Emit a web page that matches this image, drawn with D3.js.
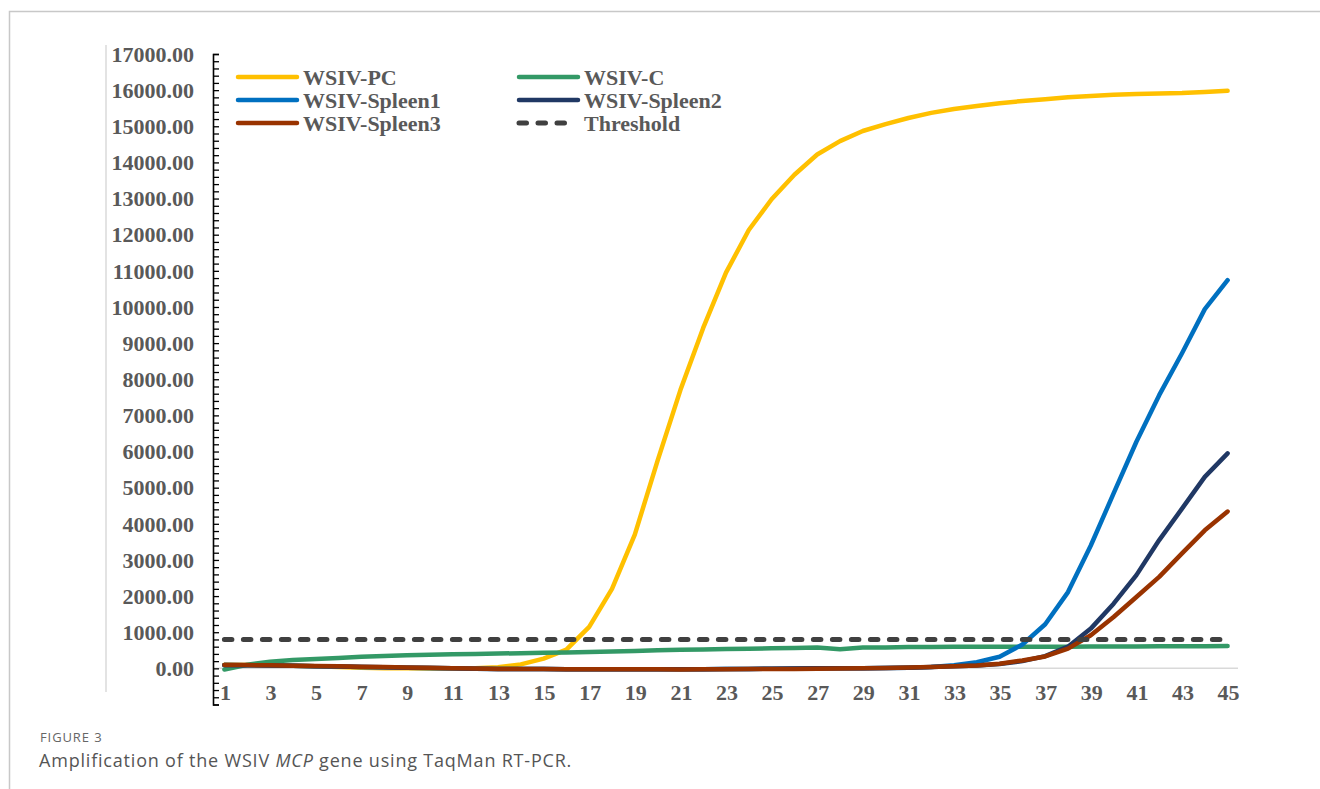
<!DOCTYPE html>
<html>
<head>
<meta charset="utf-8">
<script src="https://cdn.jsdelivr.net/npm/d3@7"></script>
<style>
  body { margin: 0; background: #fff; }
  svg { display: block; }
</style>
</head>
<body>
<script>
// cycle numbers (x categories)
const cycles = [1, 2, 3, 4, 5, 6, 7, 8, 9, 10, 11, 12, 13, 14, 15, 16, 17, 18, 19, 20,
    21, 22, 23, 24, 25, 26, 27, 28, 29, 30, 31, 32, 33, 34, 35, 36, 37, 38, 39, 40,
    41, 42, 43, 44, 45];
const xTickLabels = [1, 3, 5, 7, 9, 11, 13, 15, 17, 19, 21, 23, 25, 27, 29, 31, 33, 35, 37, 39, 41, 43, 45];
const yTickLabels = [0, 1000, 2000, 3000, 4000, 5000, 6000, 7000, 8000, 9000, 10000,
    11000, 12000, 13000, 14000, 15000, 16000, 17000];

const seriesNames = ["WSIV-PC", "WSIV-C", "WSIV-Spleen1", "WSIV-Spleen2", "WSIV-Spleen3", "Threshold"];

const pc = [100, 95, 85, 70, 55, 35, 15, 5, 0, -5,
    -5, 0, 30, 110, 270, 520, 1150, 2200, 3700, 5750,
    7700, 9420, 10950, 12130, 12980, 13660, 14220, 14590, 14870, 15060,
    15230, 15370, 15480, 15560, 15640, 15700, 15750, 15800, 15840, 15870,
    15890, 15910, 15920, 15950, 15980];
const ctrl = [-30, 100, 180, 230, 260, 290, 320, 340, 360, 375,
    390, 400, 410, 420, 430, 440, 450, 465, 480, 500,
    515, 525, 535, 545, 555, 560, 575, 530, 575, 580,
    590, 590, 595, 595, 600, 600, 600, 600, 605, 605,
    605, 610, 615, 615, 620];
const spleen1 = [90, 85, 80, 70, 60, 50, 40, 30, 20, 10,
    0, -10, -15, -20, -20, -25, -25, -25, -25, -25,
    -25, -25, -20, -15, -10, -5, 0, 0, 5, 10,
    20, 40, 85, 170, 320, 660, 1220, 2110, 3400, 4840,
    6270, 7560, 8720, 9940, 10740];
const spleen2 = [90, 85, 80, 70, 60, 50, 40, 30, 20, 10,
    0, -10, -15, -20, -20, -25, -25, -25, -25, -25,
    -25, -25, -20, -15, -10, -5, 0, 0, 5, 10,
    20, 35, 55, 80, 120, 200, 340, 600, 1100, 1790,
    2580, 3550, 4420, 5300, 5950];
const spleen3 = [95, 90, 85, 75, 65, 55, 45, 35, 25, 15,
    5, -5, -15, -20, -20, -25, -25, -25, -25, -25,
    -30, -25, -25, -20, -20, -15, -10, -5, 0, 10,
    25, 40, 60, 80, 130, 220, 330, 545, 915, 1420,
    1975, 2530, 3180, 3820, 4340];
const threshold = 800;

const colors = ["#FFC000", "#339966", "#0070C0", "#203864", "#993300", "#404040"];

const series = [pc, ctrl, spleen1, spleen2, spleen3, cycles.map(() => threshold)];

const svg = d3.select("body").append("svg")
    .attr("width", 1320)
    .attr("height", 789);

// outer frame (top and left edges show)
svg.append("path")
    .attr("d", "M9.5,789V11.5H1320")
    .attr("fill", "none")
    .attr("stroke", "#c8c8c8")
    .attr("stroke-width", 1.5);

// light chart-area edge
svg.append("line")
    .attr("x1", 106).attr("x2", 106)
    .attr("y1", 45).attr("y2", 692)
    .attr("stroke", "#e3e3e3")
    .attr("stroke-width", 2);

// scales
const xScale = d3.scalePoint()
    .domain(cycles)
    .range([213, 1239])
    .padding(0.5);

const yScale = d3.scaleLinear()
    .domain([-1000, 17000])
    .range([704.5, 54]);

const serif = "'Liberation Serif', 'Times New Roman', serif";
const textGray = "#595959";

// zero line
svg.append("line")
    .attr("x1", 213).attr("x2", 1238)
    .attr("y1", yScale(0)).attr("y2", yScale(0))
    .attr("stroke", "#d9d9d9")
    .attr("stroke-width", 1.5);

// y axis with minor ticks pointing inward
const yAxis = svg.append("g")
    .attr("transform", "translate(213,0)")
    .call(d3.axisRight(yScale).tickValues(d3.range(-1000, 17001, 200)).tickSize(6).tickFormat(""));
yAxis.select(".domain").attr("stroke", "#000").attr("stroke-width", 1.6);
yAxis.selectAll(".tick line").attr("stroke", "#000").attr("stroke-width", 1.3);

// y tick labels
svg.append("g")
    .selectAll("text")
    .data(yTickLabels)
    .join("text")
    .attr("x", 194)
    .attr("y", d => yScale(d))
    .attr("dy", "0.35em")
    .attr("text-anchor", "end")
    .style("font-family", serif)
    .style("font-weight", "bold")
    .style("font-size", "22px")
    .style("fill", textGray)
    .text(d => d3.format(".2f")(d));

// x tick labels
svg.append("g")
    .selectAll("text")
    .data(xTickLabels)
    .join("text")
    .attr("x", d => xScale(d) + 1)
    .attr("y", 692)
    .attr("dy", "0.35em")
    .attr("text-anchor", "middle")
    .style("font-family", serif)
    .style("font-weight", "bold")
    .style("font-size", "22px")
    .style("fill", textGray)
    .text(d => d);

// lines
const line = d3.line()
    .x((d, i) => xScale(cycles[i]))
    .y(d => yScale(d));

series.forEach((s, k) => {
    svg.append("path")
        .datum(s)
        .attr("fill", "none")
        .attr("stroke", colors[k])
        .attr("stroke-width", k === 5 ? 5 : 4.5)
        .attr("stroke-linecap", "round")
        .attr("stroke-linejoin", "round")
        .attr("stroke-dasharray", k === 5 ? "7.5,11.5" : null)
        .attr("d", line);
});

// legend
const legendPos = [[238, 77], [519, 77], [238, 100], [519, 100], [238, 123], [519, 123]];
seriesNames.forEach((name, k) => {
    const [lx, ly] = legendPos[k];
    svg.append("line")
        .attr("x1", lx).attr("x2", k === 5 ? lx + 52 : lx + 59)
        .attr("y1", ly).attr("y2", ly)
        .attr("stroke", colors[k])
        .attr("stroke-width", k === 5 ? 5 : 4.5)
        .attr("stroke-linecap", "round")
        .attr("stroke-dasharray", k === 5 ? "7.5,11.5" : null);
    svg.append("text")
        .attr("x", lx + 65)
        .attr("y", ly)
        .attr("dy", "0.35em")
        .style("font-family", serif)
        .style("font-weight", "bold")
        .style("font-size", "22px")
        .style("fill", textGray)
        .text(name);
});

// caption
svg.append("text")
    .attr("x", 40)
    .attr("y", 742)
    .style("font-family", "'Open Sans', 'Noto Sans', sans-serif")
    .style("font-size", "13px")
    .style("letter-spacing", "0.9px")
    .style("fill", "#666")
    .text("FIGURE 3");

const cap = svg.append("text")
    .attr("x", 39)
    .attr("y", 767)
    .style("font-family", "'Open Sans', 'Noto Sans', sans-serif")
    .style("font-size", "18px")
    .style("letter-spacing", "0.8px")
    .style("fill", "#555");
cap.append("tspan").text("Amplification of the WSIV ");
cap.append("tspan").style("font-style", "italic").text("MCP");
cap.append("tspan").text(" gene using TaqMan RT-PCR.");
</script>
</body>
</html>
